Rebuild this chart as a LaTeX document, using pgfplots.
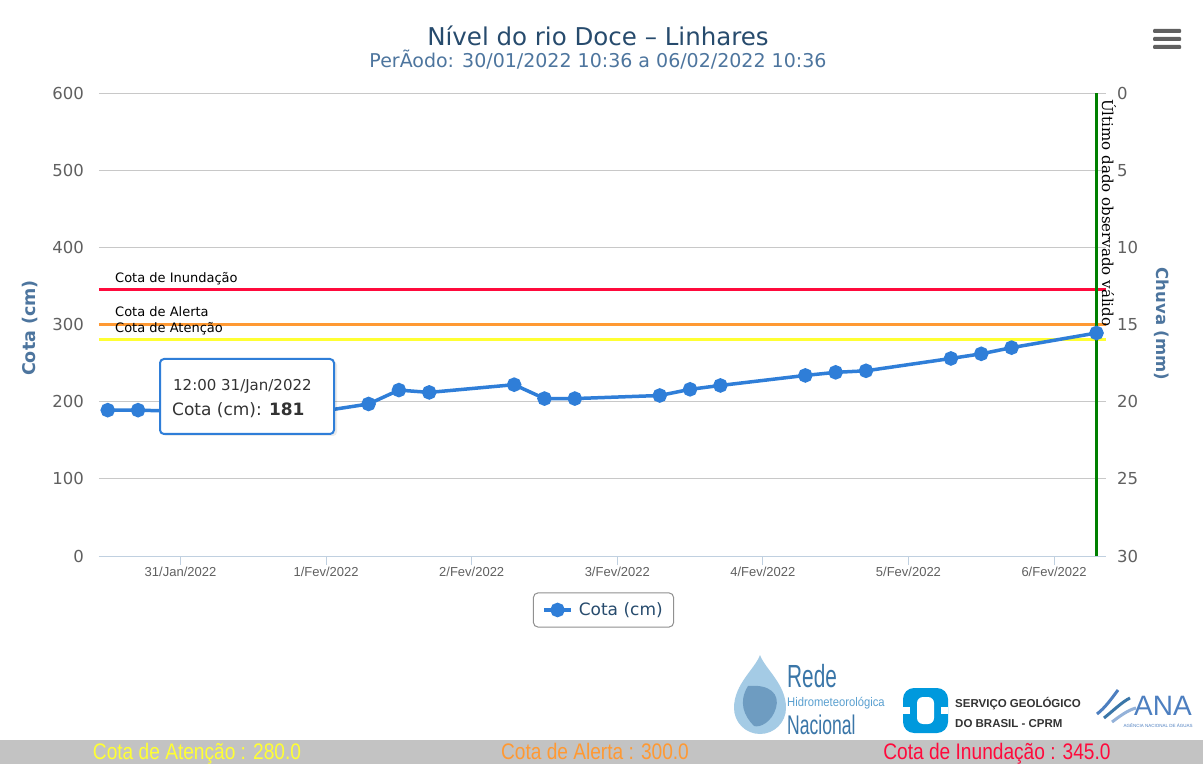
\documentclass[border=0pt]{standalone}
\usepackage{fontspec}
\setmainfont{DejaVu Sans}
\newfontfamily\lib{Liberation Sans}
\newfontfamily\libn{Liberation Sans}[FakeStretch=0.85]
\newfontfamily\libc{Liberation Sans}[FakeStretch=0.9]
\newfontfamily\libcc{Liberation Sans}[FakeStretch=0.65]
\newfontfamily\djs{DejaVu Serif}
\usepackage{pgfplots}
\pgfplotsset{compat=1.18}
\definecolor{hcblue}{HTML}{2F7ED8}
\definecolor{titlec}{HTML}{274B6D}
\definecolor{subc}{HTML}{4D759E}
\definecolor{tickc}{HTML}{606060}
\definecolor{gridc}{HTML}{C8C8C8}
\definecolor{xaxc}{HTML}{C0D0E0}
\definecolor{inund}{HTML}{FF0A3C}
\definecolor{alerta}{HTML}{FF9933}
\definecolor{atenc}{HTML}{FFFF33}
\definecolor{verde}{HTML}{008000}
\definecolor{legc}{HTML}{909090}
\definecolor{barc}{HTML}{C3C3C3}
\definecolor{txt}{HTML}{333333}
\definecolor{redec}{HTML}{3A76A8}
\definecolor{redel}{HTML}{5AA0D0}
\definecolor{cprmc}{HTML}{0099DD}
\definecolor{anac}{HTML}{4D7FC0}

% x = days since 31/01/2022 00:00
\pgfplotstableread{
x y
-0.5000 189
-0.2917 189
0.2917 186
0.5000 181
0.7083 180
1.2917 197
1.5000 215
1.7083 212
2.2917 222
2.5000 204
2.7083 204
3.2917 208
3.5000 216
3.7083 221
4.2917 234
4.5000 238
4.7083 240
5.2917 256
5.5000 262
5.7083 270
6.2917 289
}\cota

\begin{document}
\begin{tikzpicture}[x=1pt,y=1pt]
\fill[white] (0,0) rectangle (1203,764);
% titles
\node[font=\fontsize{24.5}{28}\selectfont, text=titlec, anchor=base, inner sep=0pt] at (598,718) {Nível do rio Doce – Linhares};
\node[font=\fontsize{19}{21}\selectfont, text=subc, anchor=base, inner sep=0pt] at (598,696) {PerÃodo: 30/01/2022 10:36 a 06/02/2022 10:36};
% menu icon
\fill[tickc, rounded corners=1pt] (1153,731) rectangle (1181,735);
\fill[tickc, rounded corners=1pt] (1153,723) rectangle (1181,727);
\fill[tickc, rounded corners=1pt] (1153,715) rectangle (1181,719);

\begin{axis}[
  at={(99pt,208pt)}, anchor=south west, scale only axis,
  width=1007pt, height=463pt,
  xmin=-0.56, xmax=6.357, ymin=0, ymax=600,
  axis x line*=bottom, axis y line*=left,
  x axis line style={xaxc, line width=1pt},
  y axis line style={draw=none},
  ytick={0,100,...,600},
  ymajorgrids, major grid style={gridc, line width=1pt},
  ytick style={draw=none},
  /pgf/number format/assume math mode=true,
  yticklabel style={font=\fontsize{16.5}{18}\selectfont, text=tickc, anchor=east, inner sep=0pt, xshift=-6pt},
  xtick={0,1,...,6},
  xticklabels={31/Jan/2022,1/Fev/2022,2/Fev/2022,3/Fev/2022,4/Fev/2022,5/Fev/2022,6/Fev/2022},
  xtick style={xaxc, line width=1pt},
  tick align=outside, major tick length=9pt,
  xticklabel style={font=\lib\fontsize{13}{15}\selectfont, text=tickc, anchor=north, inner sep=0pt, yshift=-2pt},
  clip=false,
  legend style={at={(0.501,-0.1166)}, anchor=center, draw=legc, line width=1pt, rounded corners=5pt,
    font=\fontsize{17}{20}\selectfont, text=titlec, inner xsep=9pt, inner ysep=8pt},
  legend image code/.code={\draw[mark repeat=2,mark phase=2,#1] plot coordinates {(0pt,0pt) (13.5pt,0pt) (27pt,0pt)}; \path (31pt,0pt);},
]
\addplot[inund, line width=3pt, forget plot] coordinates {(-0.56,345) (6.357,345)};
\addplot[alerta, line width=3pt, forget plot] coordinates {(-0.56,300) (6.357,300)};
\addplot[atenc, line width=3pt, forget plot] coordinates {(-0.56,280) (6.357,280)};
\addplot[verde, line width=3pt, forget plot] coordinates {(6.2917,0) (6.2917,600)};
\addplot[hcblue, line width=3.5pt, mark=*, mark size=5.5pt, mark options={draw=none, fill=hcblue}] table {\cota};
\addlegendentry{Cota (cm)}
\end{axis}

\begin{axis}[
  at={(99pt,208pt)}, anchor=south west, scale only axis,
  width=1007pt, height=463pt,
  xmin=-0.56, xmax=6.357, ymin=0, ymax=30, y dir=reverse,
  axis x line=none, axis y line*=right,
  y axis line style={draw=none},
  ytick={0,5,...,30}, ytick style={draw=none},
  /pgf/number format/assume math mode=true,
  yticklabel style={font=\fontsize{16.5}{18}\selectfont, text=tickc, anchor=west, inner sep=0pt, xshift=11pt},
]
\addplot[draw=none, forget plot] coordinates {(0,0) (1,30)};
\end{axis}

% threshold labels
\node[font=\fontsize{13}{15}\selectfont, text=black, anchor=base west, inner sep=0pt] at (115,481) {Cota de Inundação};
\node[font=\fontsize{13}{15}\selectfont, text=black, anchor=base west, inner sep=0pt] at (115,447) {Cota de Alerta};
\node[font=\fontsize{13}{15}\selectfont, text=black, anchor=base west, inner sep=0pt] at (115,431) {Cota de Atenção};
% green line label
\node[font=\djs\fontsize{15}{17}\selectfont, text=black, rotate=-90, anchor=base west, inner sep=0pt] at (1102,665) {Último dado observado válido};
% axis titles
\node[font=\bfseries\fontsize{17.5}{20}\selectfont, text=subc, rotate=90, inner sep=0pt] at (30,436) {Cota (cm)};
\node[font=\bfseries\fontsize{16.5}{20}\selectfont, text=subc, rotate=-90, inner sep=0pt] at (1162,440) {Chuva (mm)};

% tooltip
\fill[black, opacity=0.08, rounded corners=4pt] (162,328) rectangle (337,403);
\draw[hcblue, line width=2pt, fill=white, rounded corners=4pt] (160,330) rectangle (334,405);
\node[font=\fontsize{15}{17}\selectfont, text=txt, anchor=base west, inner sep=0pt] at (173,373) {12:00 31/Jan/2022};
\node[font=\fontsize{17}{19}\selectfont, text=txt, anchor=base west, inner sep=0pt] at (172,348) {Cota (cm): \textbf{181}};

% logos (approximation)
\fill[redel!55] (760,109) .. controls (755,95) and (734,80) .. (734,56) arc[start angle=180, end angle=360, radius=26] .. controls (786,80) and (765,95) .. (760,109) -- cycle;
\fill[redec!80, opacity=0.8] (748,78) .. controls (770,80) and (780,70) .. (776,56) .. controls (772,42) and (760,36) .. (754,38) .. controls (744,48) and (738,62) .. (748,78) -- cycle;
\node[font=\libcc\fontsize{32}{32}\selectfont, text=redec, anchor=base west, inner sep=0pt] at (787,77) {Rede};
\node[font=\libc\fontsize{12.5}{13}\selectfont, text=redel, anchor=base west, inner sep=0pt] at (787,58) {Hidrometeorológica};
\node[font=\libcc\fontsize{27}{27}\selectfont, text=redec, anchor=base west, inner sep=0pt] at (787,30) {Nacional};
\fill[cprmc, rounded corners=11pt] (903,31) rectangle (948,76);
\fill[white, rounded corners=6pt] (917,40) rectangle (934,67);
\fill[white] (903,50) rectangle (910,57);
\fill[white] (941,50) rectangle (948,57);
\node[font=\lib\bfseries\fontsize{11.5}{12}\selectfont, text=txt, anchor=base west, inner sep=0pt] at (955,57) {SERVIÇO GEOLÓGICO};
\node[font=\lib\bfseries\fontsize{11.5}{12}\selectfont, text=txt, anchor=base west, inner sep=0pt] at (955,37) {DO BRASIL - CPRM};
\draw[anac, line width=3pt] (1097,50) .. controls (1105,56) and (1112,66) .. (1118,74);
\draw[redec, line width=3pt] (1104,46) .. controls (1114,54) and (1122,62) .. (1130,66);
\draw[anac!60, line width=3pt] (1112,42) .. controls (1120,48) and (1128,54) .. (1136,56);
\node[font=\lib\fontsize{28}{28}\selectfont, text=anac, anchor=base west, inner sep=0pt] at (1134,49) {ANA};
\node[font=\lib\fontsize{4.5}{5}\selectfont, text=anac, anchor=base, inner sep=0pt] at (1158,37) {AGÊNCIA NACIONAL DE ÁGUAS};

% bottom bar
\fill[barc] (0,0) rectangle (1203,24);
\node[font=\libn\fontsize{22.5}{24}\selectfont, text=atenc, inner sep=0pt, anchor=base] at (197,5) {Cota de Atenção : 280.0};
\node[font=\libn\fontsize{22.5}{24}\selectfont, text=alerta, inner sep=0pt, anchor=base] at (595,5) {Cota de Alerta : 300.0};
\node[font=\libn\fontsize{22.5}{24}\selectfont, text=inund, inner sep=0pt, anchor=base] at (997,5) {Cota de Inundação : 345.0};
\end{tikzpicture}
\end{document}
